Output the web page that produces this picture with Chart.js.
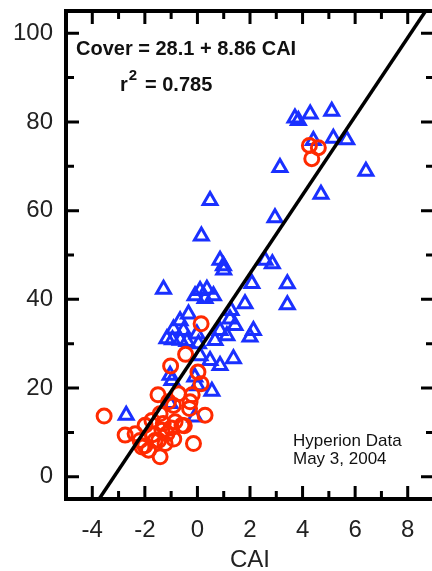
<!DOCTYPE html>
<html><head><meta charset="utf-8">
<script src="https://cdn.jsdelivr.net/npm/chart.js@4/dist/chart.umd.min.js"></script>
<style>html,body{margin:0;padding:0;background:#fff;overflow:hidden;width:432px;height:571px}#wrap{width:445px;height:571px;position:relative}</style>
</head><body><div id="wrap"><canvas id="c" width="445" height="571"></canvas></div>
<script>
// Triangles (blue) : CAI and Cover
const triCAI = [3.71,3.84,4.29,5.11,5.17,5.68,4.41,3.14,6.41,4.70,0.48,2.95,0.15,0.86,0.99,1.0,2.57,2.85,2.07,3.42,3.42,-1.29,0.10,0.36,-0.09,0.61,0.29,1.81,1.28,1.24,-0.34,1.43,-0.66,-0.91,0.86,2.13,2.0,1.12,-1.16,-0.95,-0.65,-0.4,0.67,0.04,-0.02,0.1,0.48,0.86,1.37,-1.04,-0.97,0.55,-2.71,-0.1,-0.53,-1.04,0.0,-0.1];
const triCover = [80.9,80.3,81.8,82.4,76.3,76.0,75.8,69.7,68.9,63.7,62.3,58.4,54.3,48.8,47.6,46.6,48.8,48.0,43.6,43.5,38.8,42.3,42.0,42.3,40.8,40.8,40.2,39.0,37.5,35.6,36.7,34.1,35.2,33.3,33.0,33.0,31.5,31.8,31.1,30.9,30.8,30.5,30.7,30.0,32.2,27.3,26.2,25.1,26.6,22.9,21.7,19.3,13.9,13.5,33.0,16.5,20.5,22.5];
// Circles (red)
const cirCAI = [4.26,4.60,4.35,0.14,-0.45,-1.02,0.02,0.14,-1.5,-0.72,-0.28,-0.2,-3.55,-2.75,-2.37,-2.18,-1.99,-1.73,-2.11,-1.86,-1.42,-1.61,-0.15,0.29,-0.3,-0.59,-0.85,-1.1,-1.48,-1.23,-1.35,-1.16,-1.42,-0.91,-1.3,-1.0,-0.9,-2.0,-1.7,-0.5];
const cirCover = [74.7,74.2,71.7,34.5,27.6,25.0,23.6,21.0,18.5,18.7,16.9,18.5,13.7,9.4,9.7,8.2,11.6,12.7,6.7,6.0,4.5,8.2,7.5,13.9,15.4,11.6,12.4,16.9,8.2,7.5,10.5,9.7,14.2,16.1,12.0,11.0,8.5,7.0,9.5,11.5];
// Regression line endpoints (Cover = 28.1 + 8.86 CAI), clipped to the frame
const fitCAI = [-3.74, 8.68];
const fitCover = [-5, 105];
// Ticks
const xTicks = [-4,-2,0,2,4,6,8];
const xMinor = [-5,-3,-1,1,3,5,7,9];
const yTicks = [0,20,40,60,80,100];
const yMinor = [10,30,50,70,90];
const xRange = [-5, 9];
const yRange = [-5, 105];

const FONT = '"Liberation Sans", Arial, Helvetica, sans-serif';
const toPts = (xs, ys) => xs.map((x, i) => ({x, y: ys[i]}));

const framePlugin = {
  id: 'frame',
  afterDatasetsDraw(chart) {
    const {ctx, chartArea: a, scales: {x, y}} = chart;
    ctx.save();
    ctx.strokeStyle = '#000';
    ctx.lineWidth = 3;
    ctx.lineCap = 'butt';
    const tick = (vals, len, vertical) => {
      vals.forEach(v => {
        ctx.beginPath();
        if (vertical) {
          const px = x.getPixelForValue(v);
          ctx.moveTo(px, a.bottom); ctx.lineTo(px, a.bottom - len);
          ctx.moveTo(px, a.top); ctx.lineTo(px, a.top + len);
        } else {
          const py = y.getPixelForValue(v);
          ctx.moveTo(a.left, py); ctx.lineTo(a.left + len, py);
          ctx.moveTo(a.right, py); ctx.lineTo(a.right - len, py);
        }
        ctx.stroke();
      });
    };
    tick(xTicks, 13, true); tick(xMinor, 8, true);
    tick(yTicks, 13, false); tick(yMinor, 8, false);
    ctx.lineWidth = 4;
    ctx.strokeRect(a.left, a.top, a.right - a.left, a.bottom - a.top);
    // annotations
    ctx.fillStyle = '#111';
    ctx.textBaseline = 'alphabetic';
    ctx.textAlign = 'left';
    ctx.font = 'bold 20px ' + FONT;
    ctx.fillText('Cover = 28.1 + 8.86 CAI', 76, 55);
    ctx.fillText('r', 120, 91);
    const rw = ctx.measureText('r').width;
    ctx.font = 'bold 15px ' + FONT;
    ctx.fillText('2', 120 + rw + 1, 80);
    ctx.font = 'bold 20px ' + FONT;
    ctx.fillText('= 0.785', 145, 91);
    ctx.font = '17px ' + FONT;
    ctx.fillText('Hyperion Data', 293, 446);
    ctx.fillText('May 3, 2004', 293, 464);
    ctx.restore();
  }
};

new Chart(document.getElementById('c'), {
  type: 'scatter',
  data: {
    datasets: [
      { type: 'line', data: toPts(fitCAI, fitCover), borderColor: '#000', borderWidth: 3.5, pointRadius: 0, fill: false, tension: 0 },
      { data: toPts(cirCAI, cirCover), pointStyle: 'circle', pointRadius: 7, pointHoverRadius: 7, borderColor: '#ff2a00', backgroundColor: 'rgba(0,0,0,0)', pointBorderWidth: 3, borderWidth: 3 },
      { data: toPts(triCAI, triCover), pointStyle: 'triangle', pointRadius: 8, pointHoverRadius: 8, borderColor: '#1a30ff', backgroundColor: 'rgba(0,0,0,0)', pointBorderWidth: 3, borderWidth: 3 }
    ]
  },
  options: {
    responsive: false,
    animation: false,
    events: [],
    layout: { padding: { top: 9, right: 5, left: 0, bottom: 0 } },
    plugins: { legend: { display: false }, tooltip: { enabled: false } },
    scales: {
      x: {
        type: 'linear', min: xRange[0], max: xRange[1],
        grid: { display: false, drawTicks: false },
        border: { display: false },
        afterBuildTicks: s => { s.ticks = xTicks.map(v => ({value: v})); },
        afterFit: s => { s.height = 72; s.paddingLeft = 0; s.paddingRight = 0; },
        ticks: { color: '#222', font: { family: FONT, size: 24 }, padding: 17, maxRotation: 0, autoSkip: false },
        title: { display: true, text: 'CAI', color: '#222', font: { family: FONT, size: 24 }, padding: { top: 0, bottom: -4 } }
      },
      y: {
        type: 'linear', min: yRange[0], max: yRange[1],
        grid: { display: false, drawTicks: false },
        border: { display: false },
        afterBuildTicks: s => { s.ticks = yTicks.map(v => ({value: v})); },
        afterFit: s => { s.width = 66; s.paddingTop = 0; s.paddingBottom = 0; },
        ticks: { color: '#222', font: { family: FONT, size: 24 }, padding: 13 }
      }
    }
  },
  plugins: [framePlugin]
});
</script></body></html>
